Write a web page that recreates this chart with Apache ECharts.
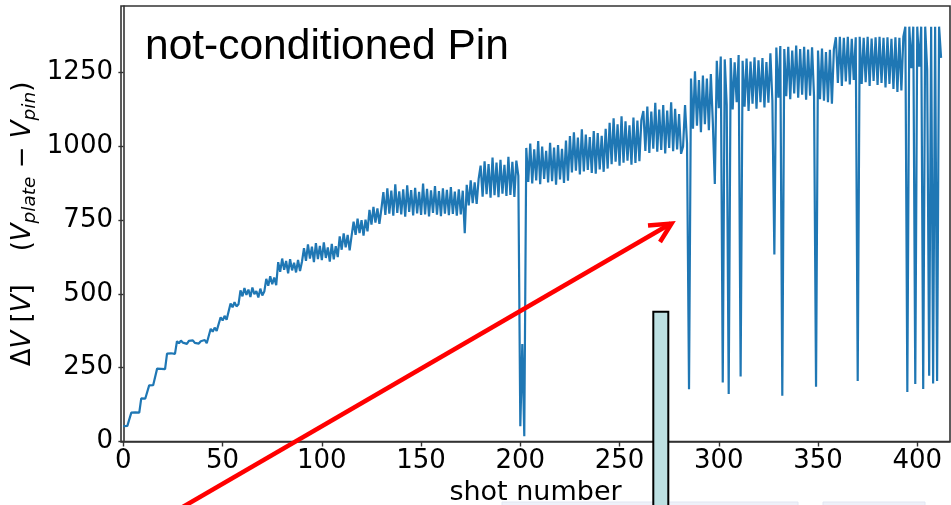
<!DOCTYPE html>
<html>
<head>
<meta charset="utf-8">
<script src="https://cdn.jsdelivr.net/npm/echarts@6/dist/echarts.min.js"></script>
<style>
  html, body { margin: 0; padding: 0; background: #fff; }
  #chart { width: 951px; height: 505px; }
</style>
</head>
<body>
<div id="chart"></div>
<script>
// Voltage difference between plate and pin, one value per shot (shot = array index)
const rampSteps = [52, 50, 53, 51, 98, 95, 99, 96, 98, 146, 142, 145, 143, 190, 187, 191, 188,
  247, 243, 246, 244, 245, 298, 295, 299, 296, 297];
const plateau340 = [340, 333, 342, 335, 338, 331, 341, 336, 343, 334, 339, 332, 340, 337, 344, 333, 338];
const climb = [382, 372, 386, 375, 380, 421, 410, 426, 413, 419, 468, 455, 472, 458, 465,
  512, 492, 520, 497, 515, 490, 522, 499, 510, 488, 518, 495, 508,
  551, 528, 560, 533, 556, 530,
  608, 575, 620, 582, 612, 570, 618, 580, 606, 573, 615, 578, 610,
  655, 612, 668, 620, 660, 608, 672, 618, 663, 615, 675, 622, 658, 610, 670, 617, 662, 625,
  695, 650, 705, 658, 700, 648, 698,
  745, 700, 755, 706, 750, 698, 752, 712,
  785, 735, 795, 742, 790, 738, 788];
const plateau800 = [845, 768, 858, 772, 850, 765, 872, 775, 848, 770, 855, 762, 868, 778, 852, 766, 860, 773, 846, 768,
  874, 770, 856, 763, 851, 775, 866, 769, 849, 764, 858, 772, 853, 767, 862, 771, 847, 765, 855, 770, 850, 706];
const rise900 = [870, 800, 885, 808, 878, 805, 890,
  935, 830, 950, 838, 940, 826, 962, 835, 945, 828, 955, 840, 938, 832, 965, 836, 948, 829, 952, 900];
const breakdown200 = [52, 330, 18];
const mid = [995, 880, 1010, 875, 990, 885, 1018, 872, 1000, 890, 985, 878, 1012, 882, 996, 870, 1005, 888, 992, 876, 1020, 884,
  1035, 912, 1048, 918, 1030, 905, 1058, 915, 1040, 920, 1032, 910, 1052, 908, 1045, 922, 1036, 914, 1060, 925,
  1080, 940, 1095, 948, 1075, 935, 1102, 945, 1085, 952, 1072, 938, 1098, 944, 1088, 950, 1090,
  1120, 985, 1135, 978, 1118, 992, 1148, 982, 1125, 988, 1140, 976, 1122, 995, 1150, 984, 1128, 990, 1110, 975, 1000];
const late = [1140, 1010, 177, 1230, 1060, 1255, 1070, 1225, 1048, 1240, 1075, 1230, 1055, 1245, 1080,
  873,
  1290, 1130, 1305, 200, 1295, 1140, 161, 1300, 1125, 1285, 1150, 1310, 220, 1290, 1135, 1298, 1120, 1288, 1145, 1302,
  1128, 1292, 1150, 1300, 1132, 1286, 1148, 1316, 1155,
  634,
  1335, 1165, 1340, 155, 1330, 1170, 1338, 1160, 1325, 1180, 1342, 1165, 1330, 1175, 1338, 1158, 1328, 1172, 1336, 1168,
  186, 1325, 1160, 1332, 1155, 1320, 1150, 1328, 1145, 1330,
  1370, 1215, 1372, 1205, 1368, 1220, 1372, 1210, 1365, 1225, 1370, 205, 1372, 1212, 1368, 1218, 1372, 1205, 1366, 1222,
  1370, 1208, 1372, 1215, 1368, 1200, 1370, 1212, 1365, 1195, 1370, 1185, 1368, 1190, 1372,
  1406, 168, 1406, 1265, 1406, 195, 1406, 1270, 1406, 178, 1406, 1260, 223, 1406, 197, 1406, 205, 1406, 1300];

const xTicks = [0, 50, 100, 150, 200, 250, 300, 350, 400];
const yTicks = [0, 250, 500, 750, 1000, 1250];

const deltaV = [].concat(rampSteps, plateau340, climb, plateau800, rise900, breakdown200, mid, late);
const points = deltaV.map((v, i) => [i, v]);

const chart = echarts.init(document.getElementById('chart'), null, { renderer: 'canvas' });
const tickFont = { fontFamily: 'DejaVu Sans', fontSize: 26, color: '#000', formatter: v => String(v) };
const axisDark = { lineStyle: { color: '#333', width: 1.6 } };

chart.setOption({
  animation: false,
  backgroundColor: '#fff',
  grid: {
    left: 121, right: 1, top: 6, bottom: 63.5, containLabel: false, outerBoundsMode: 'none',
    show: true, borderColor: '#333', borderWidth: 1.6
  },
  xAxis: {
    type: 'value', min: -1.2, max: 416.5,
    name: 'shot number', nameLocation: 'middle', nameGap: 34,
    nameTextStyle: { fontFamily: 'DejaVu Sans', fontSize: 27, color: '#000' },
    axisLine: axisDark,
    axisTick: { show: true, inside: false, length: 5, customValues: xTicks, lineStyle: { color: '#333', width: 1.4 } },
    axisLabel: Object.assign({ margin: 7, customValues: xTicks }, tickFont),
    splitLine: { show: false }
  },
  yAxis: {
    type: 'value', min: 0, max: 1476,
    axisLine: axisDark,
    axisTick: { show: true, inside: false, length: 5, customValues: yTicks, lineStyle: { color: '#333', width: 1.4 } },
    axisLabel: Object.assign({ margin: 8, customValues: yTicks }, tickFont),
    splitLine: { show: false }
  },
  series: [{
    type: 'line', data: points, showSymbol: false, symbol: 'none',
    lineStyle: { color: '#1f77b4', width: 2.2 }, z: 3
  }],
  graphic: [
    {
      type: 'text', x: 145, y: 47, z: 10,
      style: { text: 'not-conditioned Pin', font: '42.5px "Liberation Sans", Arial, sans-serif', fill: '#000',
        textAlign: 'left', textVerticalAlign: 'middle' }
    },
    {
      type: 'text', x: 23, y: 224, rotation: Math.PI / 2, z: 10,
      style: {
        text: '{r|Δ}{i|V}{r| [}{i|V}{r|]    (}{i|V}{sub|plate}{r| − }{i|V}{sub|pin}{r|)}',
        textAlign: 'center', textVerticalAlign: 'middle', fill: '#000',
        rich: {
          r: { fontFamily: 'DejaVu Sans', fontSize: 26, lineHeight: 34, verticalAlign: 'middle' },
          i: { fontFamily: 'DejaVu Sans', fontStyle: 'italic', fontSize: 26, lineHeight: 34, verticalAlign: 'middle' },
          sub: { fontFamily: 'DejaVu Sans', fontStyle: 'italic', fontSize: 18.5, lineHeight: 14, verticalAlign: 'bottom' }
        }
      }
    },
    // highlight arrow
    {
      type: 'polyline', z: 20,
      shape: { points: [[181, 508], [671, 223.5]] },
      style: { stroke: '#ff0000', lineWidth: 4.5, fill: null }
    },
    {
      type: 'polyline', z: 20,
      shape: { points: [[648, 225.5], [671.5, 223.5], [660, 242]] },
      style: { stroke: '#ff0000', lineWidth: 4.5, fill: null, lineJoin: 'miter' }
    },
    // marker bar
    {
      type: 'rect', z: 20,
      shape: { x: 653.3, y: 311.7, width: 15, height: 200 },
      style: { fill: '#bde0e2', stroke: '#000', lineWidth: 2 }
    },
    // faint boxes along the lower edge
    {
      type: 'rect', z: 1,
      shape: { x: 502, y: 502, width: 296, height: 6 },
      style: { fill: '#eef1f9', stroke: '#e1e6f2', lineWidth: 1 }
    },
    {
      type: 'rect', z: 1,
      shape: { x: 823, y: 502, width: 102, height: 6 },
      style: { fill: '#eef1f9', stroke: '#e1e6f2', lineWidth: 1 }
    }
  ]
});
</script>
</body>
</html>
